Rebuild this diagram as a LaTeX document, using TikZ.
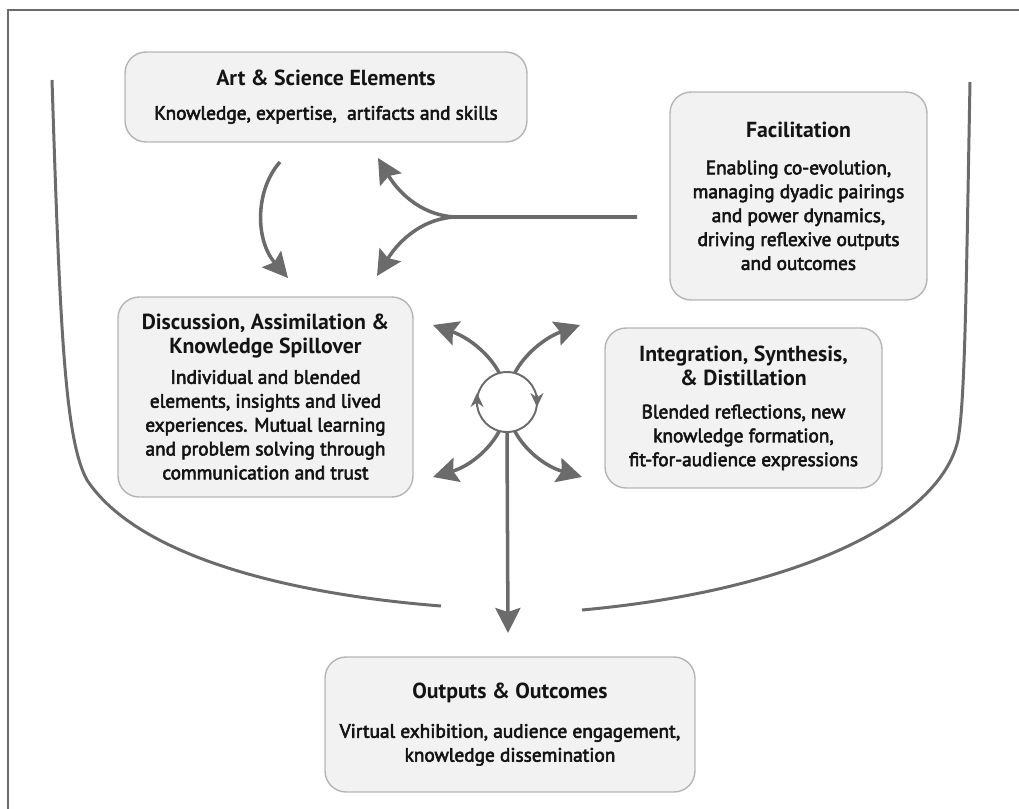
\documentclass[tikz,border=0pt]{standalone}
\usepackage{fontspec}
\setmainfont{PT Sans}
\newfontfamily\semifont{PT Sans}[FakeBold=3]
\usepackage{tikz}
\usetikzlibrary{arrows.meta}
\definecolor{linegray}{HTML}{6B6B6B}
\definecolor{boxfill}{HTML}{F2F2F2}
\definecolor{boxedge}{HTML}{B5B5B5}
\definecolor{inkgray}{HTML}{141414}
\newcommand{\boxhead}[1]{{\fontsize{12.4}{14.4}\selectfont\bfseries #1}}
\tikzstyle{block} = [rectangle, draw=boxedge, fill=boxfill, line width=0.8pt, rounded corners=0.42cm, align=center, text=inkgray, inner sep=0pt, font=\fontsize{11}{13.6}\selectfont]
\tikzstyle{line} = [draw=linegray, line width=2pt, -{Stealth[length=0.5cm, width=0.5cm, inset=0.08cm]}]
\tikzstyle{bracket} = [draw=linegray, line width=1.7pt]
\tikzstyle{frame} = [draw=linegray, line width=1.7pt]
\tikzstyle{hubtip} = [draw=linegray, line width=1.1pt, -{Stealth[length=0.28cm, width=0.26cm]}]

\begin{document}
\begin{tikzpicture}[x=0.02cm, y=-0.02cm]

\useasboundingbox (0, 0) rectangle (1019, 809);

% frame and side brackets
\draw [frame] (8, 809) -- (8, 10) -- (1019, 10);
\draw [bracket] (52, 80) .. controls (60, 330) and (65, 440) .. (87, 480) .. controls (140, 560) and (300, 595) .. (441, 606);
\draw [bracket] (970, 82) .. controls (966, 300) and (965, 400) .. (958, 440) .. controls (940, 520) and (800, 590) .. (582, 610);

% boxes
\node [block, minimum width=8.04cm, minimum height=1.8cm] at (326, 97) (art) {\boxhead{Art \& Science Elements}\\[0.2cm]\semifont Knowledge, expertise,~ artifacts and skills};
\node [block, minimum width=5.14cm, minimum height=4.16cm] at (798.5, 196) (facil) {\boxhead{Facilitation}\\[0.26cm]\semifont Enabling co-evolution,\\\semifont managing dyadic pairings\\\semifont and power dynamics,\\\semifont driving reflexive outputs\\\semifont and outcomes};
\node [block, minimum width=5.9cm, minimum height=4cm] at (265.5, 397) (spill) {\boxhead{Discussion, Assimilation \&}\\\boxhead{Knowledge Spillover}\\[0.12cm]\semifont Individual and blended\\\semifont elements, insights and lived\\\semifont experiences. Mutual learning\\\semifont and problem solving through\\\semifont communication and trust};
\node [block, minimum width=5.54cm, minimum height=3.2cm] at (743.5, 408) (integ) {\boxhead{Integration, Synthesis,}\\\boxhead{\& Distillation}\\[0.18cm]\semifont Blended reflections, new\\\semifont knowledge formation,\\\semifont fit-for-audience expressions};
\node [block, minimum width=7.4cm, minimum height=2.7cm] at (510, 724.5) (outp) {\boxhead{Outputs \& Outcomes}\\[0.3cm]\semifont Virtual exhibition, audience engagement,\\\semifont knowledge dissemination};

% hub
\node [circle, draw=linegray, line width=1.1pt, fill=white, minimum size=1.2cm, inner sep=0pt, outer sep=0pt] at (507, 402) (hub) {};
\path [hubtip] ([yshift=-0.1cm]hub.west) -- ([yshift=0.18cm]hub.west);
\path [hubtip] ([yshift=0.14cm]hub.east) -- ([yshift=-0.1cm]hub.east);

% free ends
\coordinate (artout) at (280, 162);
\coordinate (spillin) at (288, 278);
\coordinate (forkstart) at (637, 217);
\coordinate (forkjoin) at (458, 217);
\coordinate (artin) at (378, 158);
\coordinate (spillfork) at (377, 276);
\coordinate (tl) at (433, 325);
\coordinate (tr) at (580, 325);
\coordinate (bl) at (433, 477);
\coordinate (br) at (582, 477);
\coordinate (outin) at (508, 633);

% elements into discussion
\path [line] (artout) .. controls (255, 190) and (255, 240) .. (spillin);

% facilitation fork
\path [line] (forkstart) -- (forkjoin) .. controls (425, 217) and (400, 195) .. (artin);
\path [line] (forkjoin) .. controls (425, 217) and (400, 239) .. (spillfork);

% hub arrows
\path [line] (hub.105) .. controls (490, 355) and (470, 338) .. (tl);
\path [line] (hub.75) .. controls (524, 355) and (544, 338) .. (tr);
\path [line] (hub.255) .. controls (490, 449) and (470, 466) .. (bl);
\path [line] (hub.285) .. controls (524, 449) and (544, 466) .. (br);
\path [line] (hub.south) -- (outin);

\end{tikzpicture}
\end{document}
